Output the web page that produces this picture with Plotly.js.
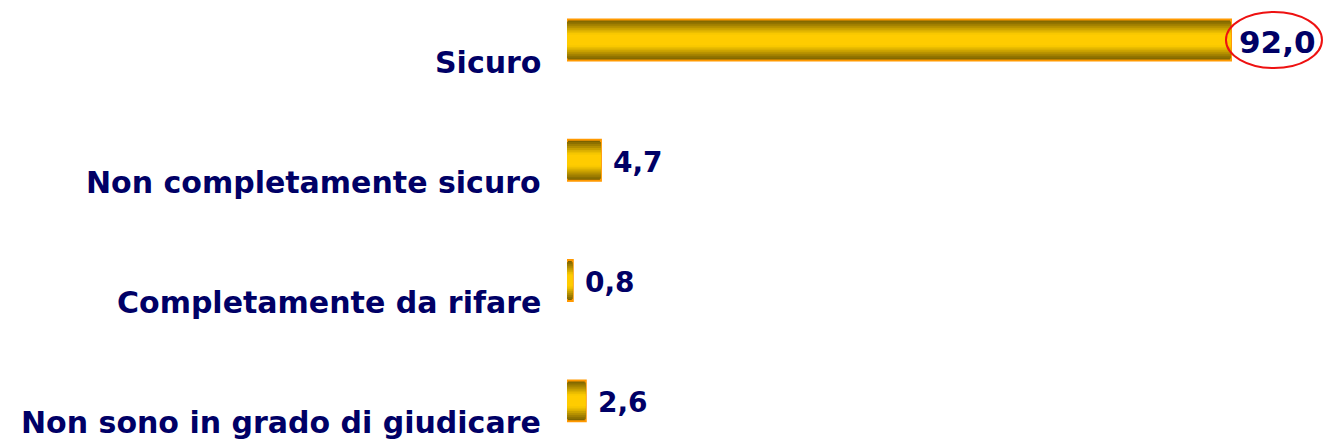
<!DOCTYPE html>
<html>
<head>
<meta charset="utf-8">
<script src="https://cdn.plot.ly/plotly-3.0.1.min.js"></script>
<style>html,body{margin:0;padding:0;background:#fff;}#chart{width:1324px;height:442px;}</style>
</head>
<body>
<div id="chart"></div>
<script>
// ---- data ----
const categories = ["Sicuro", "Non completamente sicuro", "Completamente da rifare", "Non sono in grado di giudicare"];
const values = [92.0, 4.7, 0.8, 2.6];
const valueLabels = ["92,0", "4,7", "0,8", "2,6"];
const highlightIndex = 0;

// ---- styling ----
const navy = "#000066";
const font = "DejaVu Sans, Verdana, sans-serif";
const barWidth = 0.34;
// gradient bands from outer (dark) to center (bright)
const bandColors = ["#7a6200", "#8c7000", "#a07f00", "#b48f00", "#c8a000", "#dcb000", "#ecbe00", "#f8c800", "#ffcc00"];
const bandFrac   = [1.0, 0.90, 0.80, 0.70, 0.60, 0.50, 0.42, 0.34, 0.26];

const traces = bandColors.map((c, i) => ({
  type: "bar",
  orientation: "h",
  y: categories,
  x: values,
  width: barWidth * bandFrac[i],
  marker: {
    color: c,
    line: i === 0 ? {color: "#ff9900", width: 2} : {width: 0}
  },
  hoverinfo: "skip",
  showlegend: false
}));

const annotations = [];
categories.forEach((c, i) => {
  annotations.push({
    xref: "paper", yref: "y", x: 0, y: c,
    xanchor: "right", yanchor: "middle",
    xshift: -24, yshift: -22,
    text: "<b>" + c + "</b>", showarrow: false,
    font: {family: font, size: 30, color: navy}
  });
  annotations.push({
    xref: "x", yref: "y", x: values[i], y: c,
    xanchor: "left", yanchor: "middle",
    xshift: i === highlightIndex ? 6 : 10, yshift: -2,
    text: "<b>" + valueLabels[i] + "</b>", showarrow: false,
    font: {family: font, size: i === highlightIndex ? 31 : 28, color: navy}
  });
});

const shapes = [{
  type: "circle",
  xref: "x", yref: "y",
  xsizemode: "pixel", ysizemode: "pixel",
  xanchor: values[highlightIndex], yanchor: categories[highlightIndex],
  x0: -5, x1: 91, y0: -28, y1: 28,
  line: {color: "#ee1111", width: 2},
  fillcolor: "rgba(0,0,0,0)"
}];

const layout = {
  width: 1324, height: 442,
  margin: {l: 567, r: 0, t: 0, b: 0},
  paper_bgcolor: "#ffffff", plot_bgcolor: "#ffffff",
  barmode: "overlay",
  showlegend: false,
  xaxis: {range: [0, 104.89], showgrid: false, zeroline: false, showticklabels: false, showline: false, ticks: ""},
  yaxis: {type: "category", categoryorder: "array", categoryarray: categories,
          range: [3.342, -0.3325], showgrid: false, zeroline: false, showticklabels: false, showline: false, ticks: ""},
  annotations: annotations,
  shapes: shapes
};

Plotly.newPlot("chart", traces, layout, {staticPlot: true, displayModeBar: false});
</script>
</body>
</html>
